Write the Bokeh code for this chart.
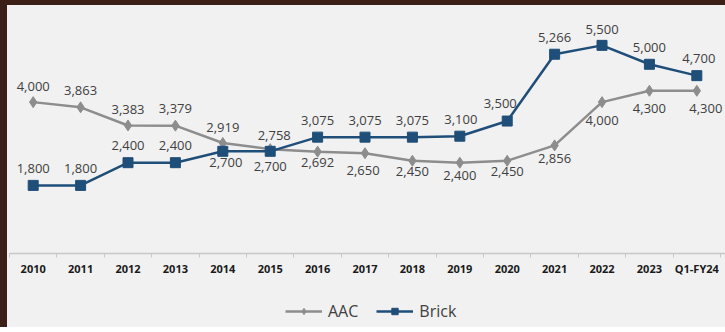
from bokeh.plotting import figure
from bokeh.models import ColumnDataSource, FixedTicker, Legend, LegendItem, Div
from bokeh.layouts import column, row
from bokeh.core.properties import value
from bokeh.embed import file_html
from bokeh.resources import INLINE

# ---- data ----
categories = ["2010", "2011", "2012", "2013", "2014", "2015", "2016", "2017",
              "2018", "2019", "2020", "2021", "2022", "2023", "Q1-FY24"]
aac = [4000, 3863, 3383, 3379, 2919, 2758, 2692, 2650, 2450, 2400, 2450, 2856, 4000, 4300, 4300]
brick = [1800, 1800, 2400, 2400, 2700, 2700, 3075, 3075, 3075, 3100, 3500, 5266, 5500, 5000, 4700]
series_names = ["AAC", "Brick"]

# ---- label placement (screen px) ----
aac_dx = [0, 0, 0, 0, 0, 4, 0, -2, 0, 0, 0, 0, 0, 0, 9]
aac_dy = [-16, -17, -16, -17, -16, -14, 11, 17, 11, 13, 11, 13, 18, 18, 18]
brick_dx = [0, 0, 0, 0, 3, 0, 0, 0, 0, 1, -7, 0, 0, 0, 2]
brick_dy = [-17, -17, -17, -17, 11, 15, -17, -17, -17, -17, -18, -17, -16, -17, -17]

BG = "#f1f1f1"
AAC_C = "#8d8d8d"
BRICK_C = "#1f4e79"
TXT = "#404040"
FRAME = "#3c1f16"

xs = list(range(len(categories)))
fmt = lambda v: f"{v:,}"

src_a = ColumnDataSource(dict(x=xs, y=aac, lab=[fmt(v) for v in aac], dx=aac_dx, dy=aac_dy))
src_b = ColumnDataSource(dict(x=xs, y=brick, lab=[fmt(v) for v in brick], dx=brick_dx, dy=brick_dy))

p = figure(width=718, height=275, output_backend="svg", toolbar_location=None,
           x_range=(-0.5, len(categories) - 0.395), y_range=(0, 6342),
           min_border_left=2, min_border_right=0, min_border_top=8, min_border_bottom=27)
p.background_fill_color = BG
p.border_fill_color = BG
p.outline_line_color = None
p.xgrid.visible = False
p.ygrid.visible = False
p.yaxis.visible = False

ax = p.xaxis[0]
ax.ticker = FixedTicker(ticks=xs, minor_ticks=[i - 0.5 for i in range(len(categories) + 1)])
ax.major_label_overrides = {i: c for i, c in enumerate(categories)}
ax.major_tick_line_color = None
ax.minor_tick_out = 4
ax.minor_tick_in = 0
ax.minor_tick_line_color = "#c8c8c8"
ax.axis_line_color = "#c8c8c8"
ax.axis_line_width = 1.5
ax.major_label_standoff = 1
ax.major_label_text_font = "Open Sans"
ax.major_label_text_font_style = "bold"
ax.major_label_text_font_size = "11px"
ax.major_label_text_color = "#1a1a1a"

p.line("x", "y", source=src_a, line_color=AAC_C, line_width=2.5)
p.scatter("x", "y", source=src_a, marker="diamond", size=11, fill_color=AAC_C, line_color=AAC_C)
p.line("x", "y", source=src_b, line_color=BRICK_C, line_width=2.5)
p.scatter("x", "y", source=src_b, marker="square", size=10, fill_color=BRICK_C, line_color=BRICK_C)

for s in (src_a, src_b):
    p.text("x", "y", text="lab", source=s, x_offset="dx", y_offset="dy",
           text_align="center", text_baseline="middle",
           text_font=value("Open Sans"), text_font_size="13px", text_color=TXT)

# ---- legend strip (separate figure holding the legend) ----
lf = figure(width=718, height=47, output_backend="svg", toolbar_location=None,
            x_range=(0, 1), y_range=(0, 1), min_border=0)
lf.background_fill_color = BG
lf.border_fill_color = BG
lf.outline_line_color = None
lf.axis.visible = False
lf.grid.visible = False
off = dict(x=[-5, -4], y=[-5, -4])  # outside the visible range: legend swatches only
la = lf.line(x=off["x"], y=off["y"], line_color=AAC_C, line_width=2.5)
ma = lf.scatter(x=off["x"], y=off["y"], marker="diamond", size=9, fill_color=AAC_C, line_color=AAC_C)
lb = lf.line(x=off["x"], y=off["y"], line_color=BRICK_C, line_width=2.5)
mb = lf.scatter(x=off["x"], y=off["y"], marker="square", size=9, fill_color=BRICK_C, line_color=BRICK_C)
legend = Legend(items=[LegendItem(label=series_names[0], renderers=[la, ma]),
                       LegendItem(label=series_names[1], renderers=[lb, mb])],
                orientation="horizontal", location=(276, 5),
                glyph_width=37, glyph_height=16, label_standoff=6, spacing=18,
                padding=4, margin=0,
                label_text_font="Open Sans", label_text_font_size="16px",
                label_text_color=TXT, background_fill_alpha=0, border_line_color=None)
lf.add_layout(legend, "center")

left_strip = Div(text="", width=7, height=327, margin=0, styles={"background-color": FRAME})
top_strip = Div(text="", width=718, height=5, margin=0, styles={"background-color": FRAME})

layout = row(left_strip, column(top_strip, p, lf, spacing=0), spacing=0,
             styles={"background-color": BG})

open("out.html", "w").write(file_html(layout, INLINE))
